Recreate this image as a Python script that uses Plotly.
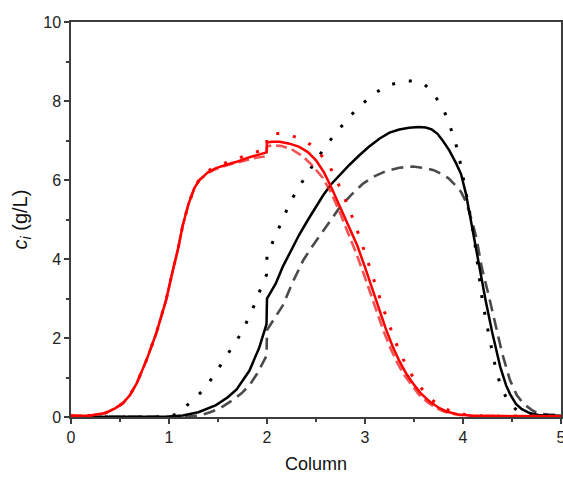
import plotly.graph_objects as go

# ---- data ----
red_solid_x = [0, 0.2, 0.35, 0.45, 0.53, 0.6, 0.67, 0.77, 0.87, 0.97, 1.04, 1.09, 1.14, 1.2, 1.26, 1.31, 1.4, 1.48, 1.6, 1.69, 1.8, 1.9, 1.995,
               2.0, 2.05, 2.13, 2.23, 2.33, 2.42, 2.5, 2.58, 2.65, 2.74, 2.84, 2.92, 3.01, 3.08, 3.15, 3.21, 3.28, 3.35, 3.42, 3.49, 3.57, 3.66,
               3.75, 3.83, 3.96, 4.1, 4.5, 5.0]
red_solid_y = [0.03, 0.04, 0.1, 0.22, 0.35, 0.55, 0.85, 1.44, 2.12, 2.96, 3.72, 4.23, 4.85, 5.4, 5.8, 6.0, 6.2, 6.3, 6.4, 6.46, 6.56, 6.63, 6.7,
               6.95, 6.97, 6.97, 6.92, 6.84, 6.7, 6.5, 6.2, 5.85, 5.35, 4.82, 4.35, 3.72, 3.2, 2.68, 2.25, 1.8, 1.42, 1.1, 0.85, 0.6, 0.39,
               0.24, 0.14, 0.06, 0.03, 0.02, 0.02]

red_dot_x = [0, 0.2, 0.35, 0.45, 0.53, 0.6, 0.67, 0.77, 0.87, 0.97, 1.04, 1.09, 1.14, 1.2, 1.26, 1.31, 1.4, 1.48, 1.6, 1.69, 1.8, 1.9, 1.995,
             2.0, 2.06, 2.15, 2.23, 2.32, 2.4, 2.47, 2.54, 2.64, 2.71, 2.79, 2.88, 2.96, 3.05, 3.12, 3.19, 3.25, 3.32, 3.39, 3.46, 3.53, 3.61,
             3.7, 3.79, 3.87, 4.0, 4.15, 4.5, 5.0]
red_dot_y = [0.03, 0.04, 0.1, 0.22, 0.35, 0.55, 0.85, 1.44, 2.12, 2.96, 3.72, 4.23, 4.85, 5.4, 5.8, 6.02, 6.23, 6.35, 6.45, 6.52, 6.65, 6.72, 6.78,
             7.12, 7.18, 7.18, 7.14, 7.06, 6.97, 6.85, 6.67, 6.34, 6.0, 5.55, 5.0, 4.45, 3.8, 3.25, 2.72, 2.3, 1.85, 1.46, 1.13, 0.87, 0.62,
             0.4, 0.25, 0.15, 0.07, 0.03, 0.02, 0.02]

red_dash_x = [0, 0.2, 0.35, 0.45, 0.53, 0.6, 0.67, 0.77, 0.87, 0.97, 1.04, 1.09, 1.14, 1.2, 1.26, 1.31, 1.4, 1.48, 1.6, 1.69, 1.8, 1.9, 1.995,
              2.0, 2.05, 2.15, 2.25, 2.37, 2.47, 2.57, 2.65, 2.74, 2.82, 2.91, 2.99, 3.06, 3.13, 3.19, 3.26, 3.33, 3.4, 3.47, 3.55, 3.64,
              3.73, 3.81, 3.94, 4.1, 5.0]
red_dash_y = [0.03, 0.04, 0.1, 0.22, 0.35, 0.55, 0.85, 1.44, 2.12, 2.96, 3.72, 4.23, 4.85, 5.4, 5.8, 6.0, 6.18, 6.28, 6.38, 6.44, 6.52, 6.57, 6.6,
              6.85, 6.88, 6.86, 6.78, 6.59, 6.35, 6.05, 5.7, 5.2, 4.7, 4.15, 3.6, 3.1, 2.58, 2.17, 1.74, 1.37, 1.06, 0.82, 0.57, 0.37,
              0.22, 0.13, 0.06, 0.03, 0.02]

blk_solid_x = [0, 0.9, 1.0, 1.14, 1.3, 1.48, 1.6, 1.69, 1.82, 1.92, 1.995, 2.0, 2.09, 2.16, 2.25, 2.33, 2.42, 2.5, 2.57, 2.65, 2.74, 2.84, 2.94,
               3.04, 3.15, 3.25, 3.35, 3.45, 3.55, 3.62, 3.68, 3.74, 3.79, 3.86, 3.93, 3.98, 4.03, 4.09, 4.16, 4.23, 4.3, 4.38, 4.44, 4.48,
               4.54, 4.6, 4.68, 4.77, 5.0]
blk_solid_y = [0.0, 0.0, 0.01, 0.04, 0.12, 0.3, 0.5, 0.7, 1.17, 1.75, 2.35, 3.0, 3.38, 3.8, 4.25, 4.62, 5.0, 5.32, 5.6, 5.88, 6.13, 6.38, 6.62,
               6.84, 7.05, 7.2, 7.28, 7.32, 7.34, 7.33, 7.28, 7.17, 7.01, 6.75, 6.42, 6.15, 5.65, 4.85, 3.85, 2.96, 2.12, 1.27, 0.8, 0.58,
               0.33, 0.2, 0.1, 0.05, 0.03]

blk_dot_x = [0, 0.95, 1.02, 1.08, 1.21, 1.35, 1.45, 1.55, 1.65, 1.74, 1.81, 1.89, 1.95, 1.995, 2.0, 2.09, 2.16, 2.23, 2.3, 2.37, 2.5, 2.62,
             2.73, 2.84, 2.96, 3.1, 3.25, 3.42, 3.52, 3.6, 3.67, 3.72, 3.77, 3.81, 3.85, 3.88, 3.94, 3.98, 4.02, 4.06, 4.11, 4.15, 4.2,
             4.27, 4.34, 4.4, 4.48, 4.55, 4.62, 4.75, 5.0]
blk_dot_y = [0.0, 0.0, 0.02, 0.08, 0.35, 0.68, 1.02, 1.4, 1.76, 2.13, 2.5, 2.94, 3.35, 3.6, 4.1, 4.62, 5.02, 5.4, 5.72, 6.0, 6.5, 6.93,
             7.27, 7.6, 7.9, 8.2, 8.41, 8.51, 8.5, 8.43, 8.28, 8.11, 7.92, 7.73, 7.5, 7.27, 6.8, 6.34, 5.85, 5.3, 4.6, 3.8, 2.9,
             2.0, 1.15, 0.68, 0.33, 0.17, 0.09, 0.04, 0.02]

blk_dash_x = [0, 1.0, 1.2, 1.31, 1.42, 1.52, 1.65, 1.74, 1.82, 1.9, 1.96, 1.995, 2.0, 2.08, 2.16, 2.26, 2.37, 2.47, 2.57, 2.66, 2.74, 2.85,
              2.98, 3.1, 3.21, 3.35, 3.49, 3.62, 3.7, 3.76, 3.85, 3.93, 3.98, 4.03, 4.09, 4.14, 4.19, 4.26, 4.33, 4.4, 4.48, 4.55, 4.62,
              4.7, 4.77, 4.88, 5.0]
blk_dash_y = [0.0, 0.0, 0.01, 0.04, 0.12, 0.22, 0.43, 0.6, 0.8, 1.1, 1.36, 1.55, 2.2, 2.5, 2.82, 3.4, 3.97, 4.35, 4.7, 5.02, 5.3, 5.6,
              5.91, 6.1, 6.22, 6.31, 6.34, 6.3, 6.25, 6.18, 6.05, 5.85, 5.7, 5.45, 4.98, 4.5, 3.8, 3.1, 2.37, 1.61, 0.93, 0.55, 0.33,
              0.18, 0.09, 0.06, 0.05]

x_ticks = [0, 1, 2, 3, 4, 5]
y_ticks = [0, 2, 4, 6, 8, 10]

fig = go.Figure()

def add(x, y, color, dash, width):
    fig.add_trace(go.Scatter(x=x, y=y, mode="lines", showlegend=False,
                             line=dict(color=color, dash=dash, width=width, shape="linear")))

add(blk_dash_x, blk_dash_y, "#4a4a4a", "12px,7px", 2.6)
add(blk_dot_x, blk_dot_y, "#000000", "3px,14px", 3)
add(blk_solid_x, blk_solid_y, "#000000", "solid", 2.5)
add(red_dash_x, red_dash_y, "rgba(240,40,40,0.8)", "11px,5px", 2.6)
add(red_dot_x, red_dot_y, "#ff0000", "3px,14px", 3)
add(red_solid_x, red_solid_y, "#ff0000", "solid", 2.5)

axis_common = dict(showgrid=False, zeroline=False, showline=True, linecolor="#3c3c3c", linewidth=1.5,
                   mirror=True, ticks="outside", ticklen=5, tickwidth=1.5, tickcolor="#3c3c3c",
                   ticklabeloverflow="allow", automargin=False,
                   tickfont=dict(family="Liberation Sans, Arial", size=16, color="#222"))

fig.update_xaxes(range=[0, 5], tickvals=x_ticks, ticktext=[str(v) for v in x_ticks],
                 minor=dict(ticks="outside", ticklen=3, tickwidth=1.5, tickcolor="#3c3c3c", dtick=0.5, tick0=0),
                 title=dict(text="Column", font=dict(family="Liberation Sans, Arial", size=18, color="#111"), standoff=12),
                 **axis_common)
fig.update_yaxes(range=[0, 10], tickvals=y_ticks, ticktext=[str(v) for v in y_ticks],
                 minor=dict(ticks="outside", ticklen=3, tickwidth=1.5, tickcolor="#3c3c3c", dtick=1, tick0=0),
                 title=dict(text="<i>c<sub>i</sub></i> (g/L)", font=dict(family="Liberation Sans, Arial", size=20, color="#111"), standoff=10),
                 **axis_common)

fig.update_layout(width=563, height=478, margin=dict(l=71, r=2, t=22, b=61),
                  plot_bgcolor="white", paper_bgcolor="white")

fig.write_html("out.html")
